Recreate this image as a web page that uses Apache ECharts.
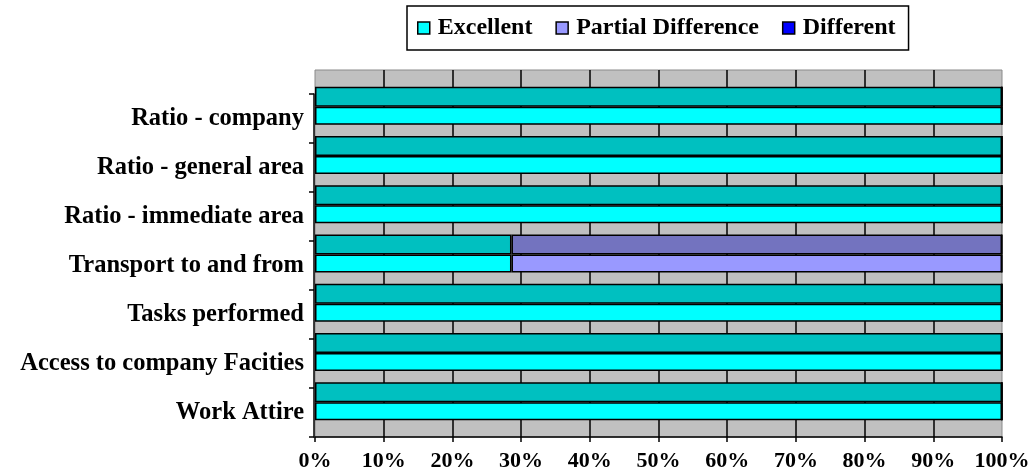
<!DOCTYPE html>
<html>
<head>
<meta charset="utf-8">
<script src="https://cdn.jsdelivr.net/npm/echarts@6/dist/echarts.min.js"></script>
<style>
  html, body { margin: 0; padding: 0; background: #fff; }
  #chart { width: 1035px; height: 472px; }
</style>
</head>
<body>
<div id="chart"></div>
<script>
// Survey items, top to bottom
const categories = [
  'Ratio - company',
  'Ratio - general area',
  'Ratio - immediate area',
  'Transport to and from',
  'Tasks performed',
  'Access to company Facities',
  'Work Attire'
];

// Share of answers per item (percent)
const excellent = [100, 100, 100, 28.6, 100, 100, 100];
const partialDifference = [0, 0, 0, 71.4, 0, 0, 0];
const different = [0, 0, 0, 0, 0, 0, 0];

// Percent axis
const percentMin = 0;
const percentMax = 100;
const percentStep = 10;

const FONT = "'Liberation Serif', 'Times New Roman', serif";

// Front-face and top-face shades for each answer
const frontColors = { Excellent: '#00FFFF', 'Partial Difference': '#9999FF', Different: '#0000FF' };
const topColors = { Excellent: '#00C0C0', 'Partial Difference': '#7373BF', Different: '#0000C0' };

const answers = [
  { name: 'Excellent', data: excellent },
  { name: 'Partial Difference', data: partialDifference },
  { name: 'Different', data: different }
];

function faceSeries(face, width, colors) {
  return answers.map(a => ({
    name: a.name,
    type: 'bar',
    xAxisIndex: 1,
    yAxisIndex: 1,
    stack: face,
    barWidth: width,
    barGap: '0%',
    data: a.data,
    itemStyle: { color: colors[a.name], borderColor: '#000', borderWidth: 1.5 },
    emphasis: { disabled: true }
  }));
}

const chart = echarts.init(document.getElementById('chart'), null, { renderer: 'canvas' });

chart.setOption({
  animation: false,
  backgroundColor: '#ffffff',
  legend: {
    top: 6,
    left: 407,
    orient: 'horizontal',
    icon: 'rect',
    itemWidth: 12,
    itemHeight: 12,
    itemGap: 23,
    padding: [10, 13, 10, 10],
    borderColor: '#000',
    borderWidth: 1.5,
    textStyle: { fontFamily: FONT, fontWeight: 'bold', fontSize: 24, color: '#000', padding: [0, 0, 0, 3] },
    data: answers.map(a => ({
      name: a.name,
      itemStyle: { color: frontColors[a.name], borderColor: '#000', borderWidth: 1.5 }
    }))
  },
  grid: [
    // back wall with the percent grid lines
    { left: 315, right: 33, top: 70, bottom: 35, show: true, backgroundColor: '#C0C0C0', borderColor: '#8A8A8A', borderWidth: 1 },
    // bars
    { left: 315, right: 33, top: 81, bottom: 46 },
    // category axis on the front plane
    { left: 314, right: 33, top: 94, bottom: 35 }
  ],
  xAxis: [
    {
      gridIndex: 0,
      type: 'value',
      min: percentMin,
      max: percentMax,
      interval: percentStep,
      axisLine: { show: true, onZero: false, lineStyle: { color: '#000', width: 1.5 } },
      axisTick: { show: true, length: 5, lineStyle: { color: '#000', width: 1.5 } },
      axisLabel: {
        margin: 13,
        formatter: '{value}%',
        fontFamily: FONT, fontWeight: 'bold', fontSize: 22, color: '#000'
      },
      splitLine: { show: true, showMinLine: false, showMaxLine: false, lineStyle: { color: '#000', width: 1.5 } }
    },
    { gridIndex: 1, type: 'value', min: percentMin, max: percentMax, show: false },
    { gridIndex: 2, type: 'value', min: percentMin, max: percentMax, show: false }
  ],
  yAxis: [
    { gridIndex: 0, type: 'value', show: false },
    { gridIndex: 1, type: 'category', inverse: true, data: categories, show: false },
    {
      gridIndex: 2,
      type: 'category',
      inverse: true,
      data: categories,
      axisLine: { show: true, lineStyle: { color: '#000', width: 1.5 } },
      axisTick: { show: true, length: 5, lineStyle: { color: '#000', width: 1.5 } },
      axisLabel: { margin: 10, fontFamily: FONT, fontWeight: 'bold', fontSize: 24.5, color: '#000' },
      splitLine: { show: false }
    }
  ],
  series: [].concat(
    faceSeries('top', 20, topColors),
    faceSeries('front', 18, frontColors)
  )
});
</script>
</body>
</html>
